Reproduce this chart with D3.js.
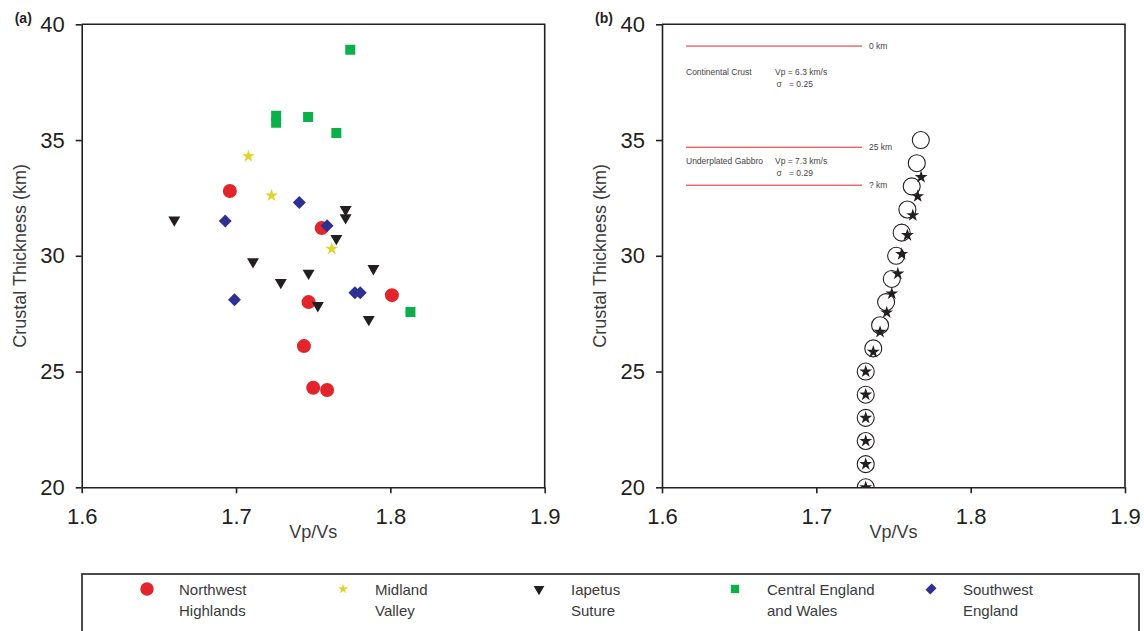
<!DOCTYPE html>
<html>
<head>
<meta charset="utf-8">
<script src="https://cdnjs.cloudflare.com/ajax/libs/d3/7.8.5/d3.min.js"></script>
<style>
  body { margin: 0; background: #fff; }
  text { font-family: "Liberation Sans", Arial, Helvetica, sans-serif; }
</style>
</head>
<body>
<div id="chart"></div>
<script>
// observed data, panel (a): [Vp/Vs, crustal thickness km]
var northwestHighlands = [[1.696, 32.8], [1.7555, 31.2], [1.747, 28.0], [1.801, 28.3], [1.744, 26.1], [1.750, 24.3], [1.759, 24.2]];
var midlandValley = [[1.708, 34.3], [1.723, 32.6], [1.762, 30.3]];
var iapetusSuture = [[1.660, 31.55], [1.771, 32.0], [1.771, 31.65], [1.765, 30.75], [1.711, 29.75], [1.747, 29.25],
                     [1.729, 28.85], [1.789, 29.45], [1.753, 27.85], [1.786, 27.25]];
var centralEngland = [[1.774, 38.9], [1.726, 36.05], [1.726, 35.75], [1.7467, 36.0], [1.765, 35.3], [1.813, 27.57]];
var southwestEngland = [[1.693, 31.5], [1.741, 32.3], [1.759, 31.3], [1.699, 28.1], [1.777, 28.4], [1.7805, 28.4]];

// model, panel (b)
var modelThickness = [20, 21, 22, 23, 24, 25, 26, 27, 28, 29, 30, 31, 32, 33, 34, 35];
var modelVpVs = [1.732, 1.732, 1.732, 1.732, 1.732, 1.732, 1.7369, 1.7413, 1.7452, 1.7489, 1.7517, 1.7553, 1.759, 1.7618, 1.7651, 1.7677];
var starThickness = [20, 21, 22, 23, 24, 25, 25.85, 26.71, 27.55, 28.37, 29.23, 30.07, 30.89, 31.75, 32.57, 33.4];
var starVpVs = [1.732, 1.732, 1.732, 1.732, 1.732, 1.732, 1.7369, 1.7413, 1.7456, 1.7489, 1.7528, 1.7553, 1.759, 1.7625, 1.7657, 1.7679];

var xTicks = [1.6, 1.7, 1.8, 1.9];
var yTicks = [20, 25, 30, 35, 40];
// sketch layer boundaries are drawn in plot units
var layerLevels = [39.06, 34.69, 33.05];
var layerLabels = ["0 km", "25 km", "? km"];

var regionNames = [["Northwest", "Highlands"], ["Midland", "Valley"], ["Iapetus", "Suture"], ["Central England", "and Wales"], ["Southwest", "England"]];
var regionColors = ["#e3242b", "#e2d32c", "#231f20", "#0bb04b", "#2e3192"];

var svgWidth = 1144;
var svgHeight = 631;
var plotSize = 463;
var plotTop = 24.3;
var panelLeft = [81.7, 662];

var svg = d3.select("#chart")
    .append("svg")
    .attr("width", svgWidth)
    .attr("height", svgHeight);

var x = d3.scaleLinear().domain([1.6, 1.9]).range([0, plotSize]);
var y = d3.scaleLinear().domain([20, 40]).range([plotSize, 0]);

var symCircle = d3.symbol().type(d3.symbolCircle);
var symStar = d3.symbol().type(d3.symbolStar);
var symTri = d3.symbol().type(d3.symbolTriangle);
var symSquare = d3.symbol().type(d3.symbolSquare);

var shapes = [
    { gen: symCircle, size: 154, rot: 0 },
    { gen: symStar, size: 52, rot: 0 },
    { gen: symTri, size: 62, rot: 180 },
    { gen: symSquare, size: 100, rot: 0 },
    { gen: symSquare, size: 84, rot: 45 }
];

function drawFrame(g, label, clipId) {
    g.append("defs").append("clipPath").attr("id", clipId)
        .append("rect").attr("width", plotSize).attr("height", plotSize);

    var bottomAxis = d3.axisBottom(x).tickValues(xTicks).tickFormat(d3.format(".1f"))
        .tickSizeInner(6).tickSizeOuter(0).tickPadding(15);
    var leftAxis = d3.axisLeft(y).tickValues(yTicks).tickFormat(d3.format("d"))
        .tickSizeInner(6).tickSizeOuter(0).tickPadding(11);

    var gx = g.append("g").attr("transform", `translate(0, ${plotSize})`).call(bottomAxis);
    var gy = g.append("g").call(leftAxis);
    [gx, gy].forEach(function (a) {
        a.selectAll("path, line").attr("stroke", "#231f20").attr("stroke-width", 1.6);
        a.selectAll("text").attr("font-size", 22).attr("fill", "#231f20")
            .attr("font-family", "'Liberation Sans', Arial, sans-serif");
    });

    // top and right borders
    g.append("path")
        .attr("d", `M0,0H${plotSize}V${plotSize}`)
        .attr("fill", "none").attr("stroke", "#231f20").attr("stroke-width", 1.6);

    g.append("text")
        .attr("x", plotSize / 2).attr("y", plotSize + 51)
        .attr("text-anchor", "middle").attr("font-size", 18).attr("fill", "#3a3a3a")
        .text("Vp/Vs");

    g.append("text")
        .attr("transform", `translate(-56, ${plotSize / 2}) rotate(-90)`)
        .attr("text-anchor", "middle").attr("font-size", 18).attr("fill", "#3a3a3a")
        .text("Crustal Thickness (km)");

    g.append("text")
        .attr("x", -67).attr("y", -1)
        .attr("font-size", 14).attr("font-weight", "bold").attr("fill", "#231f20")
        .text(label);
}

// panel (a)
var chartA = svg.append("g").attr("transform", `translate(${panelLeft[0]}, ${plotTop})`);
drawFrame(chartA, "(a)", "clipA");

var pointsA = chartA.append("g").attr("clip-path", "url(#clipA)");
[northwestHighlands, midlandValley, iapetusSuture, centralEngland, southwestEngland].forEach(function (series, i) {
    var s = shapes[i];
    pointsA.selectAll(null)
        .data(series)
        .enter()
        .append("path")
        .attr("d", s.gen.size(s.size)())
        .attr("transform", d => `translate(${x(d[0])}, ${y(d[1])}) rotate(${s.rot})`)
        .attr("fill", regionColors[i]);
});

// panel (b)
var chartB = svg.append("g").attr("transform", `translate(${panelLeft[1]}, ${plotTop})`);
drawFrame(chartB, "(b)", "clipB");

var lineX0 = 24, lineX1 = 200;
chartB.selectAll(".layer")
    .data(layerLevels)
    .enter()
    .append("line")
    .attr("x1", lineX0).attr("x2", lineX1)
    .attr("y1", d => y(d)).attr("y2", d => y(d))
    .attr("stroke", "#e3242b").attr("stroke-width", 1);

chartB.selectAll(".layerLabel")
    .data(layerLevels)
    .enter()
    .append("text")
    .attr("x", lineX1 + 7)
    .attr("y", d => y(d) + 3)
    .attr("font-size", 8.5).attr("fill", "#444")
    .text((d, i) => layerLabels[i]);

var notes = [
    ["Continental Crust", 24, 50.5], ["Vp = 6.3 km/s", 113, 50.5], ["\u03c3", 114.5, 63], ["= 0.25", 127, 63],
    ["Underplated Gabbro", 24, 139.5], ["Vp = 7.3 km/s", 113, 139.5], ["\u03c3", 114.5, 151.5], ["= 0.29", 127, 151.5]
];
chartB.selectAll(".note")
    .data(notes)
    .enter()
    .append("text")
    .attr("x", d => d[1]).attr("y", d => d[2])
    .attr("font-size", 8.5).attr("fill", "#444")
    .text(d => d[0]);

var pointsB = chartB.append("g").attr("clip-path", "url(#clipB)");
pointsB.selectAll(".model")
    .data(modelThickness)
    .enter()
    .append("circle")
    .attr("cx", (d, i) => x(modelVpVs[i]))
    .attr("cy", d => y(d))
    .attr("r", 8.5)
    .attr("fill", "none").attr("stroke", "#231f20").attr("stroke-width", 1.1);

pointsB.selectAll(".star")
    .data(starThickness)
    .enter()
    .append("path")
    .attr("d", symStar.size(52)())
    .attr("transform", (d, i) => `translate(${x(starVpVs[i])}, ${y(d)})`)
    .attr("fill", "#231f20");

// legend
var legend = svg.append("g");
legend.append("rect")
    .attr("x", 82).attr("y", 574).attr("width", 1057).attr("height", 80)
    .attr("fill", "none").attr("stroke", "#231f20").attr("stroke-width", 1.6);

var legendShapes = [
    { gen: symCircle, size: 140, rot: 0 },
    { gen: symStar, size: 32, rot: 0 },
    { gen: symTri, size: 50, rot: 180 },
    { gen: symSquare, size: 70, rot: 0 },
    { gen: symSquare, size: 64, rot: 45 }
];
regionNames.forEach(function (name, i) {
    var lx = 147 + i * 196;
    var s = legendShapes[i];
    legend.append("path")
        .attr("d", s.gen.size(s.size)())
        .attr("transform", `translate(${lx}, 589) rotate(${s.rot})${i === 4 ? " scale(0.85, 1.1)" : ""}`)
        .attr("fill", regionColors[i]);
    legend.append("text")
        .attr("x", lx + 32).attr("y", 595)
        .attr("font-size", 15).attr("fill", "#3a3a3a")
        .text(name[0]);
    legend.append("text")
        .attr("x", lx + 32).attr("y", 616)
        .attr("font-size", 15).attr("fill", "#3a3a3a")
        .text(name[1]);
});
</script>
</body>
</html>
